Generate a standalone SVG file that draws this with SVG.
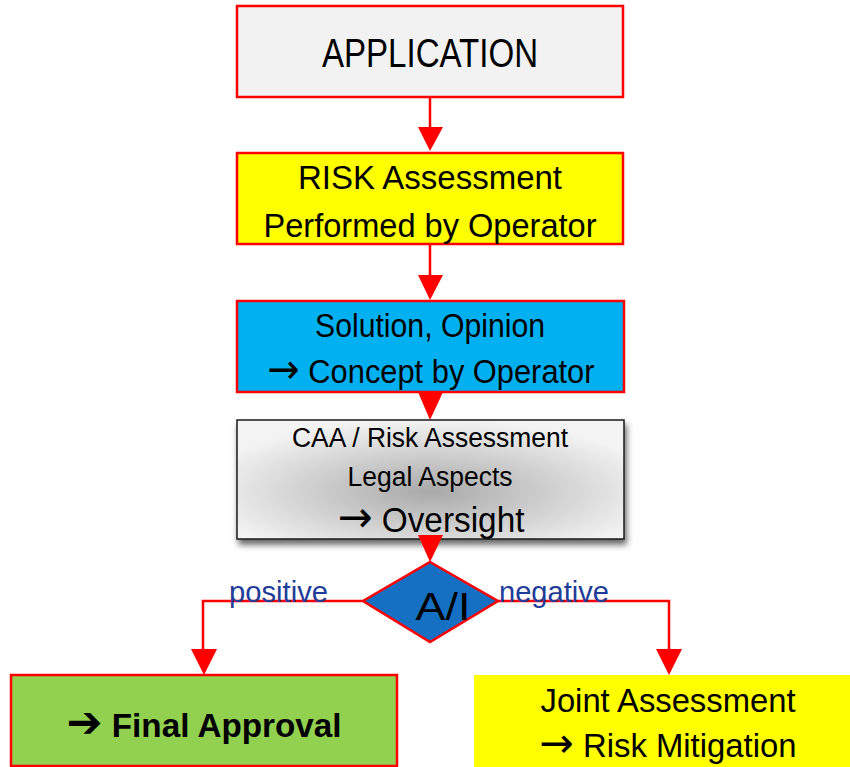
<svg xmlns="http://www.w3.org/2000/svg" width="850" height="767" viewBox="0 0 850 767">
  <style>
    .box { stroke: #ff0000; stroke-width: 2.5; }
    .t { font-family: "Liberation Sans Narrow", "Liberation Sans", Arial, sans-serif; fill: #000; text-anchor: middle; }
    .lbl { font-family: "Liberation Sans Narrow", "Liberation Sans", Arial, sans-serif; fill: #1f3c99; }
    .arr { font-family: "DejaVu Sans", sans-serif; font-size: 1.25em; }
    .wire { fill: none; stroke: #ff0000; stroke-width: 2.5; }
    .tip { fill: #ff0000; }
  </style>
  <defs>
    <radialGradient id="grey" cx="0.5" cy="0.6" r="0.6">
      <stop offset="0" stop-color="#a9a9a9"/>
      <stop offset="1" stop-color="#f3f3f3"/>
    </radialGradient>
    <filter id="shadow" x="-10%" y="-20%" width="120%" height="150%">
      <feDropShadow dx="2" dy="5" stdDeviation="3" flood-color="#000" flood-opacity="0.6"/>
    </filter>
  </defs>

  <!-- connectors -->
  <g id="connectors">
    <line class="wire" x1="430" y1="97" x2="430" y2="130"/>
    <polygon class="tip" points="418,127 443,127 430,151"/>
    <line class="wire" x1="430" y1="244" x2="430" y2="278"/>
    <polygon class="tip" points="418,275 443,275 430,300"/>
    <polygon class="tip" points="418,392 443,392 430,420"/>
    <polyline class="wire" points="363,601 203,601 203,652"/>
    <polygon class="tip" points="191,649 217,649 204,675"/>
    <polyline class="wire" points="498,601 669,601 669,652"/>
    <polygon class="tip" points="656,649 682,649 669,675"/>
  </g>

  <g id="application">
    <rect class="box" x="237" y="6" width="386" height="91" fill="#f2f2f2"/>
    <text class="t" x="430" y="67" font-size="40" textLength="216" lengthAdjust="spacingAndGlyphs">APPLICATION</text>
  </g>

  <g id="risk-assessment">
    <rect class="box" x="237" y="153" width="386" height="91" fill="#ffff00"/>
    <text class="t" x="430" y="189" font-size="34" textLength="264" lengthAdjust="spacingAndGlyphs">RISK Assessment</text>
    <text class="t" x="430" y="237" font-size="34" textLength="333" lengthAdjust="spacingAndGlyphs">Performed by Operator</text>
  </g>

  <g id="solution">
    <rect class="box" x="237" y="301" width="387" height="91" fill="#00b0f0"/>
    <text class="t" x="430" y="337" font-size="33" textLength="230" lengthAdjust="spacingAndGlyphs">Solution, Opinion</text>
    <text class="t" x="431" y="383" font-size="33" textLength="327" lengthAdjust="spacingAndGlyphs"><tspan class="arr">→</tspan> Concept by Operator</text>
  </g>

  <g id="oversight">
    <rect x="237" y="420" width="387" height="119" fill="url(#grey)" stroke="#1a1a1a" stroke-width="1.5" filter="url(#shadow)"/>
    <polygon class="tip" points="418,535 443,535 430,562"/>
    <text class="t" x="430" y="447" font-size="27" textLength="276" lengthAdjust="spacingAndGlyphs">CAA / Risk Assessment</text>
    <text class="t" x="430" y="486" font-size="27" textLength="165" lengthAdjust="spacingAndGlyphs">Legal Aspects</text>
    <text class="t" x="431" y="532" font-size="35" textLength="187" lengthAdjust="spacingAndGlyphs"><tspan class="arr">→</tspan> Oversight</text>
  </g>

  <g id="decision">
    <polygon points="430,562 498,601 430,642 363,601" fill="#1570c4" stroke="#ff0000" stroke-width="2.5"/>
    <text class="t" x="443" y="620" font-size="39" textLength="55" lengthAdjust="spacingAndGlyphs">A/I</text>
    <text class="lbl" x="229" y="602" font-size="30" textLength="99" lengthAdjust="spacingAndGlyphs">positive</text>
    <text class="lbl" x="499" y="602" font-size="30" textLength="110" lengthAdjust="spacingAndGlyphs">negative</text>
  </g>

  <g id="final-approval">
    <rect class="box" x="11" y="675" width="386" height="91" fill="#92d050"/>
    <text class="t" x="204" y="737" font-size="34" font-weight="bold" textLength="275" lengthAdjust="spacingAndGlyphs"><tspan font-family="DejaVu Sans, sans-serif" font-size="44">➔</tspan> Final Approval</text>
  </g>

  <g id="joint-assessment">
    <rect x="474" y="675" width="376" height="92" fill="#ffff00"/>
    <text class="t" x="668" y="712" font-size="33" textLength="255" lengthAdjust="spacingAndGlyphs">Joint Assessment</text>
    <text class="t" x="668" y="757" font-size="33" textLength="257" lengthAdjust="spacingAndGlyphs"><tspan class="arr">→</tspan> Risk Mitigation</text>
  </g>
</svg>
